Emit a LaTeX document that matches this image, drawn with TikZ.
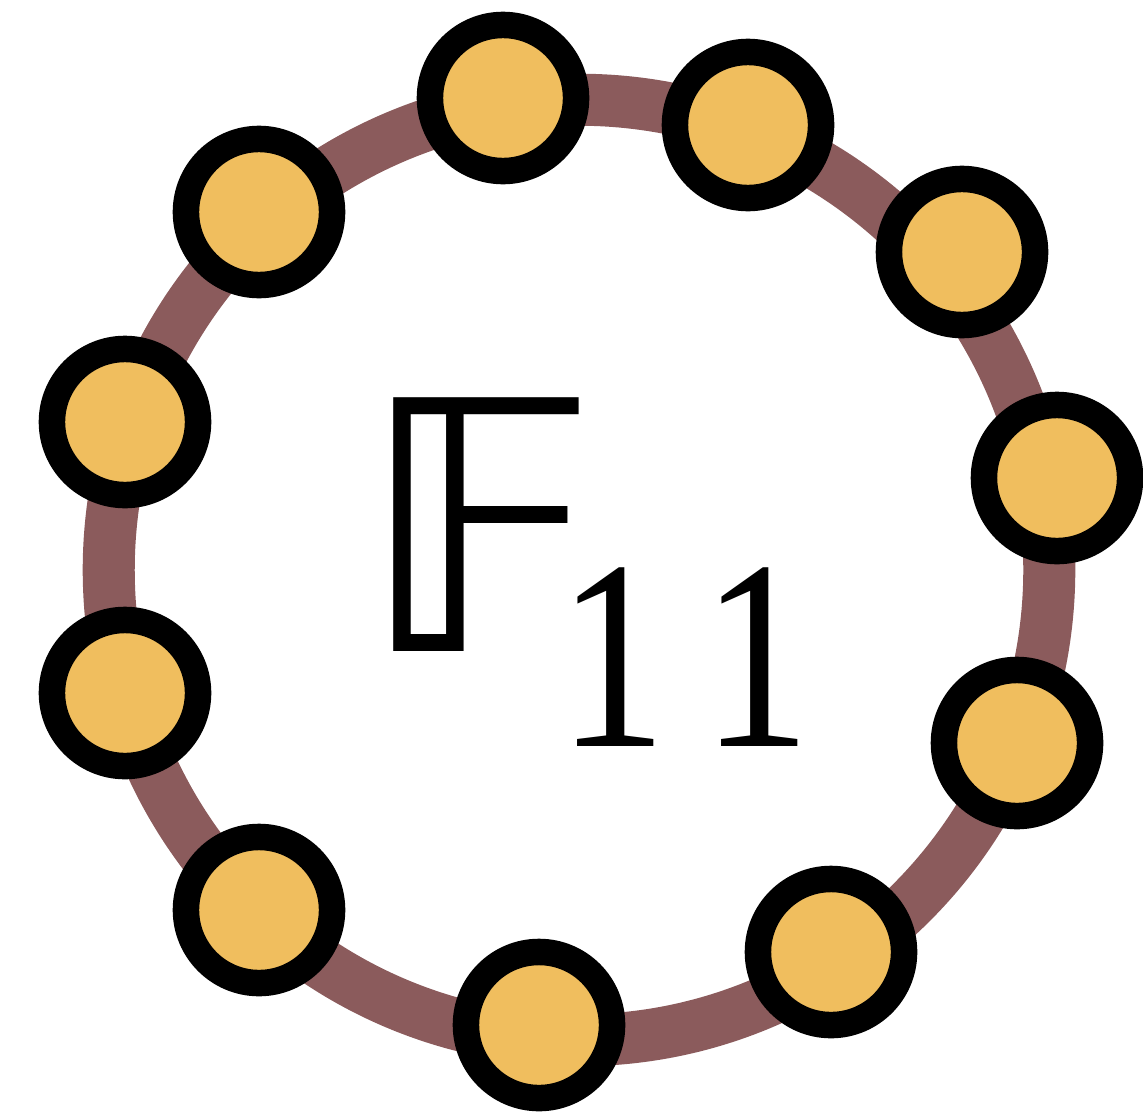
\documentclass[tikz,border=0pt]{standalone}
\usepackage{fontspec}
\usepackage{graphicx}
\newfontfamily\dsf{DejaVu Sans}
\newfontfamily\numf{Liberation Serif}
\definecolor{ringc}{HTML}{8B5B5C}
\definecolor{nodefill}{HTML}{F0BE5E}
\begin{document}
\begin{tikzpicture}[x=0.01cm,y=-0.01cm,
  vert/.style={circle, draw=black, fill=nodefill, line width=0.265cm, minimum size=1.46cm, inner sep=0pt},
  ring/.style={draw=ringc, line width=0.52cm}]
\useasboundingbox (0,0) rectangle (1143,1118);
\coordinate (c) at (579,570);
\draw[ring] (c) circle[radius=4.70cm];
\node[vert] (v1) at (503,98) {};
\node[vert] (v2) at (748,125) {};
\node[vert] (v3) at (962,252) {};
\node[vert] (v4) at (1057,478) {};
\node[vert] (v5) at (1017,743) {};
\node[vert] (v6) at (831,952) {};
\node[vert] (v7) at (539,1025) {};
\node[vert] (v8) at (259,910) {};
\node[vert] (v9) at (125,693) {};
\node[vert] (v10) at (125,422) {};
\node[vert] (v11) at (259,212) {};
\node[anchor=base west, inner sep=0pt] (lblF) at (358,651) {\scalebox{1.03}[1]{\fontsize{99}{100}\selectfont\dsf 𝔽}};
\node[anchor=base west, inner sep=0pt] (lbl11) at (558,746) {\scalebox{0.8}[1]{\fontsize{77}{80}\selectfont\numf 1\kern0.44cm1}};
\end{tikzpicture}
\end{document}
